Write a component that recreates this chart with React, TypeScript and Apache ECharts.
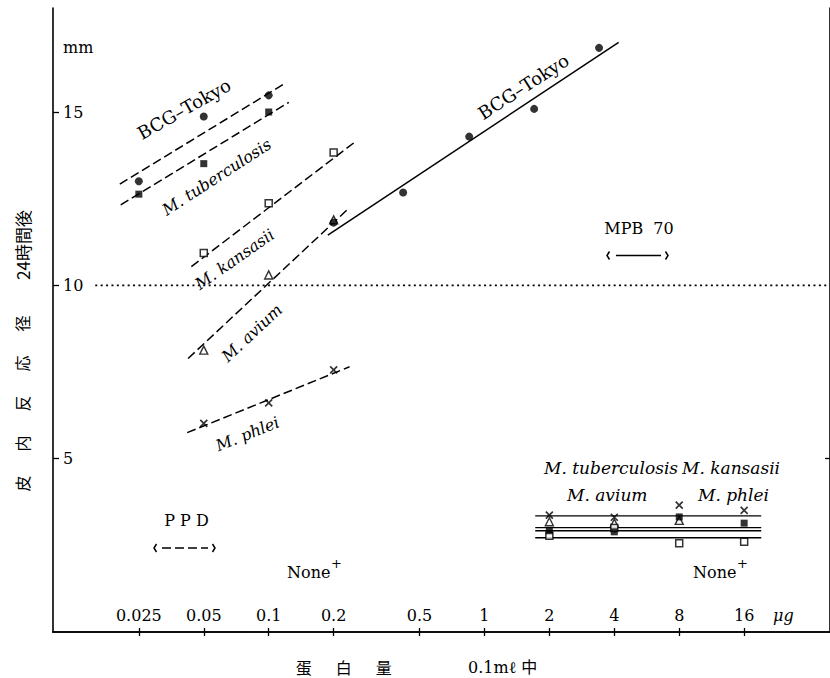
import React, { useEffect, useRef } from "react";
import * as echarts from "echarts";

// ---- axis ticks ----
const xTickValues = [0.025, 0.05, 0.1, 0.2, 0.5, 1, 2, 4, 8, 16];
const xTickLabels = ["0.025", "0.05", "0.1", "0.2", "0.5", "1", "2", "4", "8", "16"];
const yTickValues = [5, 10, 15];
const yRightTickValues = [5];

// ---- PPD (dashed lines) ----
const ppdDosesA = [0.025, 0.05, 0.1];
const ppdDosesB = [0.05, 0.1, 0.2];
const ppdBcg = [13.0, 14.87, 15.48];
const ppdTub = [12.63, 13.51, 15.0];
const ppdKan = [10.93, 12.37, 13.83];
const ppdAvi = [8.13, 10.3, 11.89];
const ppdPhl = [6.02, 6.61, 7.56];

// fitted lines (end points)
const fitBcgX = [0.0204, 0.1207];
const fitBcgY = [12.92, 15.85];
const fitTubX = [0.0206, 0.124];
const fitTubY = [12.32, 15.28];
const fitKanX = [0.0438, 0.253];
const fitKanY = [10.54, 14.15];
const fitAviX = [0.0423, 0.233];
const fitAviY = [7.89, 12.2];
const fitPhlX = [0.0419, 0.237];
const fitPhlY = [5.75, 7.65];

// ---- MPB 70 (solid line) ----
const mpbDoses = [0.2, 0.42, 0.85, 1.7, 3.4];
const mpbBcg = [11.81, 12.68, 14.29, 15.09, 16.85];
const fitMpbX = [0.188, 4.19];
const fitMpbY = [11.45, 17.01];

// MPB 70 in other strains
const otherDoses = [2, 4, 8, 16];
const otherPhl = [3.37, 3.31, 3.66, 3.51];
const otherAvi = [3.18, 3.14, 3.22, null];
const otherKan = [2.78, 3.0, 2.56, 2.6];
const otherTub = [2.92, 2.89, 3.32, 3.14];
const noneLineX = [1.72, 19.2];
const noneLineY = [3.35, 3.01, 2.92, 2.72];

// reference line
const refLineX = [0.0157, 40];
const refLineY = [10, 10];

const pairs = (xs: number[], ys: (number | null)[]) =>
  xs.map((x, i) => [x, ys[i]]).filter((p) => p[1] !== null);

const SERIF = '"DejaVu Serif", "Liberation Serif", serif';
const CJK = '"Noto Sans CJK JP", sans-serif';

const deg = (d: number) => (d * Math.PI) / 180;

export default function App() {
  const ref = useRef<HTMLDivElement>(null);

  useEffect(() => {
    const chart = echarts.init(ref.current!, null, { renderer: "svg" });

    const dashed = [9, 4];
    const lineS = (xs: number[], ys: number[], type: any, width = 1.5) => ({
      type: "line",
      data: pairs(xs, ys),
      symbol: "none",
      silent: true,
      z: 2,
      lineStyle: { color: "#000", width, type },
    });
    const dots = (xs: number[], ys: (number | null)[], kind: string) => {
      const base: any = {
        type: "scatter",
        data: pairs(xs, ys),
        silent: true,
        z: 5,
      };
      if (kind === "circle") {
        base.symbol = "circle";
        base.symbolSize = 8;
        base.itemStyle = { color: "#000" };
      } else if (kind === "fsq") {
        base.symbol = "rect";
        base.symbolSize = 7;
        base.itemStyle = { color: "#000" };
      } else if (kind === "osq") {
        base.symbol = "rect";
        base.symbolSize = 7;
        base.itemStyle = { color: "#fff", borderColor: "#000", borderWidth: 1.5 };
      } else if (kind === "tri") {
        base.symbol = "triangle";
        base.symbolSize = 8;
        base.itemStyle = { color: "#fff", borderColor: "#000", borderWidth: 1.4 };
      } else {
        base.symbol = "path://M0,0L10,10M10,0L0,10";
        base.symbolSize = 7;
        base.itemStyle = { color: "none", borderColor: "#000", borderWidth: 1.7 };
      }
      return base;
    };

    const txt = (text: string, x: number, y: number, opts: any = {}) => ({
      type: "text",
      x,
      y,
      rotation: opts.rot ? deg(opts.rot) : 0,
      silent: true,
      z: 10,
      style: {
        text,
        fill: "#000",
        font: opts.font || `16px ${SERIF}`,
        align: opts.align || "center",
        verticalAlign: "middle",
      },
    });
    const bracketL = (x: number, y: number) => ({
      type: "polyline",
      silent: true,
      shape: { points: [[x + 2.5, y - 4], [x, y], [x + 2.5, y + 4]] },
      style: { stroke: "#000", lineWidth: 1.5, fill: null },
    });
    const bracketR = (x: number, y: number) => ({
      type: "polyline",
      silent: true,
      shape: { points: [[x - 2.5, y - 4], [x, y], [x - 2.5, y + 4]] },
      style: { stroke: "#000", lineWidth: 1.5, fill: null },
    });

    const xLabelFmt = (v: number) => {
      const i = xTickValues.findIndex((t) => Math.abs(t - v) / t < 1e-6);
      return i >= 0 ? xTickLabels[i] : "";
    };

    const option: any = {
      animation: false,
      backgroundColor: "#fff",
      grid: { left: 53, top: 8, width: 778, height: 624 },
      xAxis: [
        {
          type: "log",
          logBase: 2,
          min: 0.01,
          max: 40,
          position: "bottom",
          axisLine: { show: true, lineStyle: { color: "#000", width: 1.6 } },
          axisTick: {
            show: true,
            inside: true,
            length: 4,
            customValues: xTickValues,
            lineStyle: { color: "#000", width: 1.3 },
          },
          axisLabel: {
            show: true,
            inside: true,
            margin: 9,
            customValues: xTickValues,
            formatter: xLabelFmt,
            color: "#000",
            fontFamily: SERIF,
            fontSize: 16,
          },
          splitLine: { show: false },
          minorTick: { show: false },
        },
        {
          type: "log",
          logBase: 2,
          min: 0.01,
          max: 40,
          position: "top",
          axisLine: { show: true, lineStyle: { color: "#000", width: 1.6 } },
          axisTick: {
            show: true,
            inside: true,
            length: 4,
            customValues: xTickValues,
            lineStyle: { color: "#000", width: 1.3 },
          },
          axisLabel: { show: false },
          splitLine: { show: false },
        },
      ],
      yAxis: [
        {
          type: "value",
          min: 0,
          max: 18,
          position: "left",
          axisLine: { show: true, lineStyle: { color: "#000", width: 1.6 } },
          axisTick: {
            show: true,
            inside: true,
            length: 6,
            customValues: yTickValues,
            lineStyle: { color: "#000", width: 1.3 },
          },
          axisLabel: {
            show: true,
            inside: true,
            margin: 10,
            customValues: yTickValues,
            color: "#000",
            fontFamily: SERIF,
            fontSize: 16,
          },
          splitLine: { show: false },
        },
        {
          type: "value",
          min: 0,
          max: 18,
          position: "right",
          axisLine: { show: true, lineStyle: { color: "#000", width: 1.6 } },
          axisTick: {
            show: true,
            inside: true,
            length: 5,
            customValues: yRightTickValues,
            lineStyle: { color: "#000", width: 1.3 },
          },
          axisLabel: { show: false },
          splitLine: { show: false },
        },
      ],
      series: [
        lineS(refLineX, refLineY, [2, 3.4], 1.8),
        lineS(fitBcgX, fitBcgY, dashed),
        lineS(fitTubX, fitTubY, dashed),
        lineS(fitKanX, fitKanY, dashed),
        lineS(fitAviX, fitAviY, dashed),
        lineS(fitPhlX, fitPhlY, dashed),
        lineS(fitMpbX, fitMpbY, "solid"),
        ...noneLineY.map((v) => lineS(noneLineX, [v, v], "solid", 1.4)),
        dots(ppdDosesA, ppdBcg, "circle"),
        dots(ppdDosesA, ppdTub, "fsq"),
        dots(ppdDosesB, ppdKan, "osq"),
        dots(ppdDosesB, ppdAvi, "tri"),
        dots(ppdDosesB, ppdPhl, "x"),
        dots(mpbDoses, mpbBcg, "circle"),
        dots(otherDoses, otherPhl, "x"),
        dots(otherDoses, otherAvi, "tri"),
        dots(otherDoses, otherKan, "osq"),
        dots(otherDoses, otherTub, "fsq"),
      ],
      graphic: [
        txt("mm", 63, 47, { align: "left" }),
        txt("μg", 773, 615, { align: "left", font: `italic 16px ${SERIF}` }),
        // curve labels
        txt("BCG–Tokyo", 184, 109, { rot: 29.5, font: `18px ${SERIF}` }),
        txt("M. tuberculosis", 216.7, 177, { rot: 33, font: `italic 16px ${SERIF}` }),
        txt("M. kansasii", 234.7, 259.2, { rot: 35, font: `italic 16px ${SERIF}` }),
        txt("M. avium", 252, 333, { rot: 43, font: `italic 16px ${SERIF}` }),
        txt("M. phlei", 247.5, 434, { rot: 22, font: `italic 16px ${SERIF}` }),
        txt("BCG–Tokyo", 523.3, 86.7, { rot: 33, font: `18px ${SERIF}` }),
        // right group labels
        txt("M. tuberculosis", 544, 468, { align: "left", font: `italic 17px ${SERIF}` }),
        txt("M. kansasii", 682, 468, { align: "left", font: `italic 17px ${SERIF}` }),
        txt("M. avium", 567, 495, { align: "left", font: `italic 17px ${SERIF}` }),
        txt("M. phlei", 698, 495, { align: "left", font: `italic 17px ${SERIF}` }),
        txt("None", 287, 572, { align: "left" }),
        txt("+", 331, 563, { align: "left", font: `13px ${SERIF}` }),
        txt("None", 693, 572, { align: "left" }),
        txt("+", 737, 563, { align: "left", font: `13px ${SERIF}` }),
        // legends
        txt("MPB  70", 639, 228),
        bracketL(607, 255.5),
        {
          type: "line",
          silent: true,
          shape: { x1: 616, y1: 255.5, x2: 661, y2: 255.5 },
          style: { stroke: "#000", lineWidth: 1.5 },
        },
        bracketR(668, 255.5),
        txt("P P D", 186.5, 520),
        bracketL(154, 548),
        {
          type: "line",
          silent: true,
          shape: { x1: 162, y1: 548, x2: 208, y2: 548 },
          style: { stroke: "#000", lineWidth: 1.5, lineDash: [9, 4] },
        },
        bracketR(215, 548),
        // axis titles
        txt("皮\u3000\u2002内\u3000\u2002反\u3000\u2002応\u3000\u2002径", 22, 403.5, {
          rot: 90,
          font: `16px ${CJK}`,
        }),
        txt("24時間後", 22, 245, { rot: 90, font: `17px ${CJK}` }),
        txt("蛋\u3000\u2002白\u3000\u2002量", 343.7, 667, { font: `16px ${CJK}` }),
        txt("0.1mℓ 中", 468, 667, {
          align: "left",
          font: `16px ${SERIF}, ${CJK}`,
        }),
      ],
    };

    chart.setOption(option);
    return () => chart.dispose();
  }, []);

  return (
    <div
      ref={ref}
      style={{ position: "fixed", left: 0, top: 0, width: 830, height: 678, background: "#fff" }}
    />
  );
}
